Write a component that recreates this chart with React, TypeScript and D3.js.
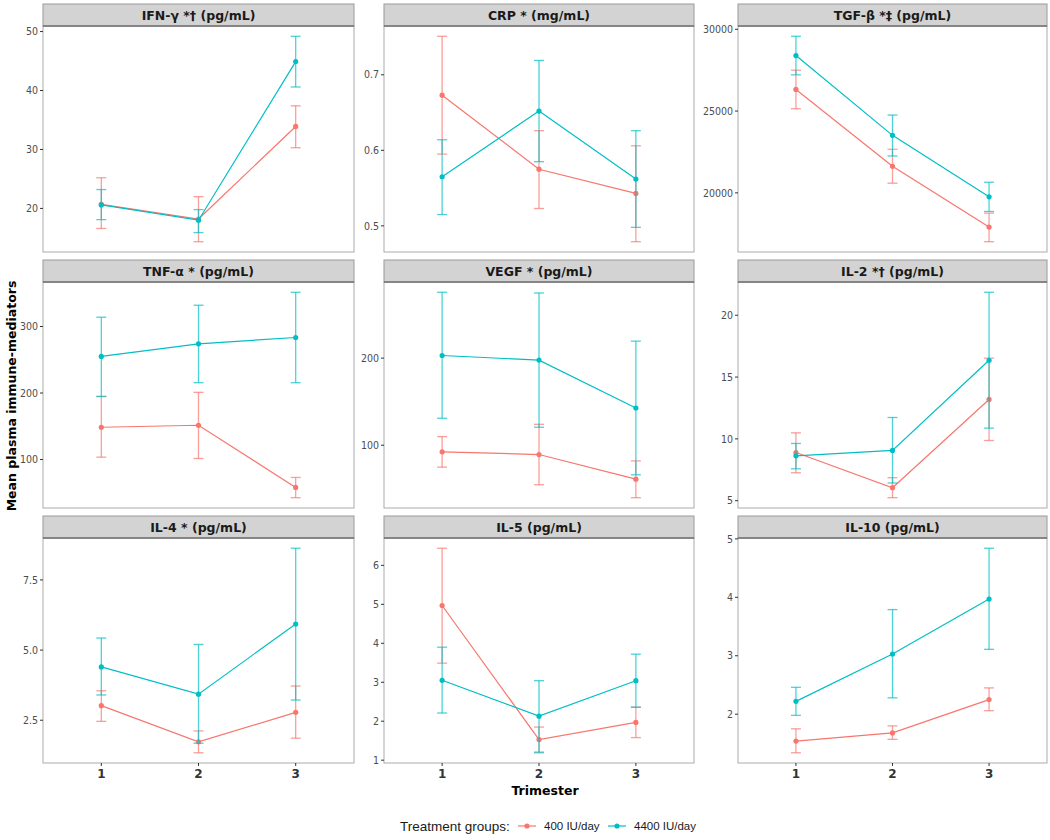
import React from 'react';
import * as d3 from 'd3';

// facet titles, in reading order
const mediators = [
  'IFN-γ *† (pg/mL)', 'CRP * (mg/mL)', 'TGF-β *‡ (pg/mL)',
  'TNF-α * (pg/mL)', 'VEGF * (pg/mL)', 'IL-2 *† (pg/mL)',
  'IL-4 * (pg/mL)', 'IL-5 (pg/mL)', 'IL-10 (pg/mL)',
];
const trimesters = ['1', '2', '3'];
const groups = ['400 IU/day', '4400 IU/day'];
const groupColors = ['#F8766D', '#00BFC4'];

// 400 IU/day
const lowMean = [
  [20.7, 18.2, 33.9], [0.673, 0.575, 0.543], [26321, 21626, 17907],
  [148.5, 151.5, 58], [92.4, 89.3, 61], [8.9, 6.05, 13.19],
  [3.02, 1.73, 2.78], [4.97, 1.53, 1.97], [1.54, 1.68, 2.25],
];
const lowLower = [
  [16.6, 14.35, 30.3], [0.595, 0.523, 0.479], [25142, 20590, 17012],
  [103.5, 101.5, 42.5], [74.8, 54.6, 39.7], [7.26, 5.24, 9.87],
  [2.46, 1.34, 1.86], [3.49, 1.21, 1.58], [1.34, 1.57, 2.06],
];
const lowUpper = [
  [25.2, 22.0, 37.4], [0.751, 0.626, 0.606], [27500, 22663, 18760],
  [194.5, 201, 73], [109.9, 124, 82], [10.49, 6.86, 16.53],
  [3.55, 2.12, 3.72], [6.44, 1.85, 2.36], [1.75, 1.80, 2.45],
];

// 4400 IU/day
const highMean = [
  [20.6, 18.0, 44.9], [0.565, 0.652, 0.562], [28394, 23516, 19756],
  [255, 274, 283.5], [203, 197.7, 142.7], [8.63, 9.07, 16.36],
  [4.40, 3.43, 5.93], [3.05, 2.13, 3.04], [2.22, 3.03, 3.97],
];
const highLower = [
  [18.1, 15.9, 40.6], [0.515, 0.585, 0.498], [27215, 22256, 18862],
  [195, 215.5, 215.5], [130.9, 120.6, 66], [7.58, 6.43, 10.87],
  [3.40, 1.68, 3.22], [2.21, 1.19, 2.36], [1.98, 2.28, 3.11],
];
const highUpper = [
  [23.2, 19.8, 49.2], [0.614, 0.719, 0.626], [29573, 24756, 20650],
  [314, 332, 351.5], [275.6, 274.8, 219.5], [9.63, 11.73, 21.86],
  [5.43, 5.20, 8.63], [3.90, 3.04, 3.72], [2.46, 3.79, 4.84],
];

const yTicks = [
  [20, 30, 40, 50], [0.5, 0.6, 0.7], [20000, 25000, 30000],
  [100, 200, 300], [100, 200], [5, 10, 15, 20],
  [2.5, 5.0, 7.5], [1, 2, 3, 4, 5, 6], [2, 3, 4, 5],
];
const yTickFormats = ['d', '.1f', 'd', 'd', 'd', 'd', '.1f', 'd', 'd'];

const colLeft = [43, 384, 738];
const colRight = [354, 694, 1047];
const rowTop = [4, 260, 516];
const rowBottom = [252, 508, 763];
const stripH = 22;
const font = 'DejaVu Sans, Verdana, sans-serif';
const tickFont = '"DejaVu Sans Condensed", "DejaVu Sans", sans-serif';
const legendFont = '"Liberation Sans", Arial, sans-serif';

const Panel = ({ i }: { i: number }) => {
  const col = i % 3;
  const row = Math.floor(i / 3);
  const x0 = colLeft[col];
  const x1 = colRight[col];
  const top = rowTop[row];
  const plotTop = top + stripH;
  const bottom = rowBottom[row];

  const x = d3.scalePoint().domain(trimesters).range([x0, x1]).padding(0.6);
  const all = [...lowLower[i], ...lowUpper[i], ...highLower[i], ...highUpper[i]];
  const [mn, mx] = d3.extent(all) as [number, number];
  const pad = (mx - mn) * 0.05;
  const y = d3.scaleLinear().domain([mn - pad, mx + pad]).range([bottom, plotTop]);
  const fmt = d3.format(yTickFormats[i]);

  const series = [
    { mean: lowMean[i], lo: lowLower[i], hi: lowUpper[i] },
    { mean: highMean[i], lo: highLower[i], hi: highUpper[i] },
  ];
  const line = d3.line<number>().x((_, k) => x(trimesters[k])!).y(d => y(d));

  return (
    <g>
      <rect x={x0} y={plotTop} width={x1 - x0} height={bottom - plotTop} fill="#fff" stroke="#ababab" strokeWidth={1} />
      <rect x={x0} y={top} width={x1 - x0} height={stripH} fill="#D3D3D3" stroke="#9a9a9a" strokeWidth={1} />
      <line x1={x0} x2={x1} y1={plotTop} y2={plotTop} stroke="#555" strokeWidth={1.2} />
      <text x={(x0 + x1) / 2} y={top + 16} textAnchor="middle" fontFamily={font} fontWeight="bold" fontSize={12.5} fill="#1a1a1a">
        {mediators[i]}
      </text>
      {yTicks[i].map(t => (
        <g key={t} transform={`translate(${x0},${y(t)})`}>
          <line x1={-3} x2={0} stroke="#333" />
          <text x={-5} dy="0.35em" textAnchor="end" fontFamily={tickFont} fontSize={10.5} fill="#4d4d4d">{fmt(t)}</text>
        </g>
      ))}
      {row === 2 && trimesters.map(t => (
        <g key={t} transform={`translate(${x(t)},${bottom})`}>
          <line y1={0} y2={3} stroke="#333" />
          <text y={15} textAnchor="middle" fontFamily={font} fontWeight="bold" fontSize={12} fill="#333">{t}</text>
        </g>
      ))}
      {series.map((s, g) => (
        <g key={g} stroke={groupColors[g]} fill={groupColors[g]}>
          <path d={line(s.mean)!} fill="none" strokeWidth={1.2} />
          {trimesters.map((t, k) => (
            <g key={t} strokeOpacity={0.7} strokeWidth={1.3}>
              <line x1={x(t)} x2={x(t)} y1={y(s.lo[k])} y2={y(s.hi[k])} />
              <line x1={x(t)! - 5} x2={x(t)! + 5} y1={y(s.lo[k])} y2={y(s.lo[k])} />
              <line x1={x(t)! - 5} x2={x(t)! + 5} y1={y(s.hi[k])} y2={y(s.hi[k])} />
            </g>
          ))}
          {trimesters.map((t, k) => (
            <circle key={t} cx={x(t)} cy={y(s.mean[k])} r={2.6} stroke="none" />
          ))}
        </g>
      ))}
    </g>
  );
};

const App = () => {
  return (
    <svg width={1050} height={840} style={{ display: 'block', position: 'absolute', left: 0, top: 0 }}>
      <rect width={1050} height={840} fill="#fff" />
      {mediators.map((_, i) => <Panel key={i} i={i} />)}
      <text transform="translate(16,396) rotate(-90)" textAnchor="middle" fontFamily={font} fontWeight="bold" fontSize={12.5} fill="#000">
        Mean plasma immune-mediators
      </text>
      <text x={545} y={795} textAnchor="middle" fontFamily={font} fontWeight="bold" fontSize={12.5} fill="#000">Trimester</text>
      <g fontFamily={legendFont} fill="#1a1a1a">
        <text x={400} y={831} fontSize={13.5}>Treatment groups:</text>
        {groups.map((g, k) => {
          const lx = k === 0 ? 518 : 608;
          return (
            <g key={g}>
              <line x1={lx} x2={lx + 18} y1={826} y2={826} stroke={groupColors[k]} strokeWidth={1.2} />
              <circle cx={lx + 9} cy={826} r={2.6} fill={groupColors[k]} />
              <text x={lx + 26} y={830} fontSize={11.5}>{g}</text>
            </g>
          );
        })}
      </g>
    </svg>
  );
};

export default App;
